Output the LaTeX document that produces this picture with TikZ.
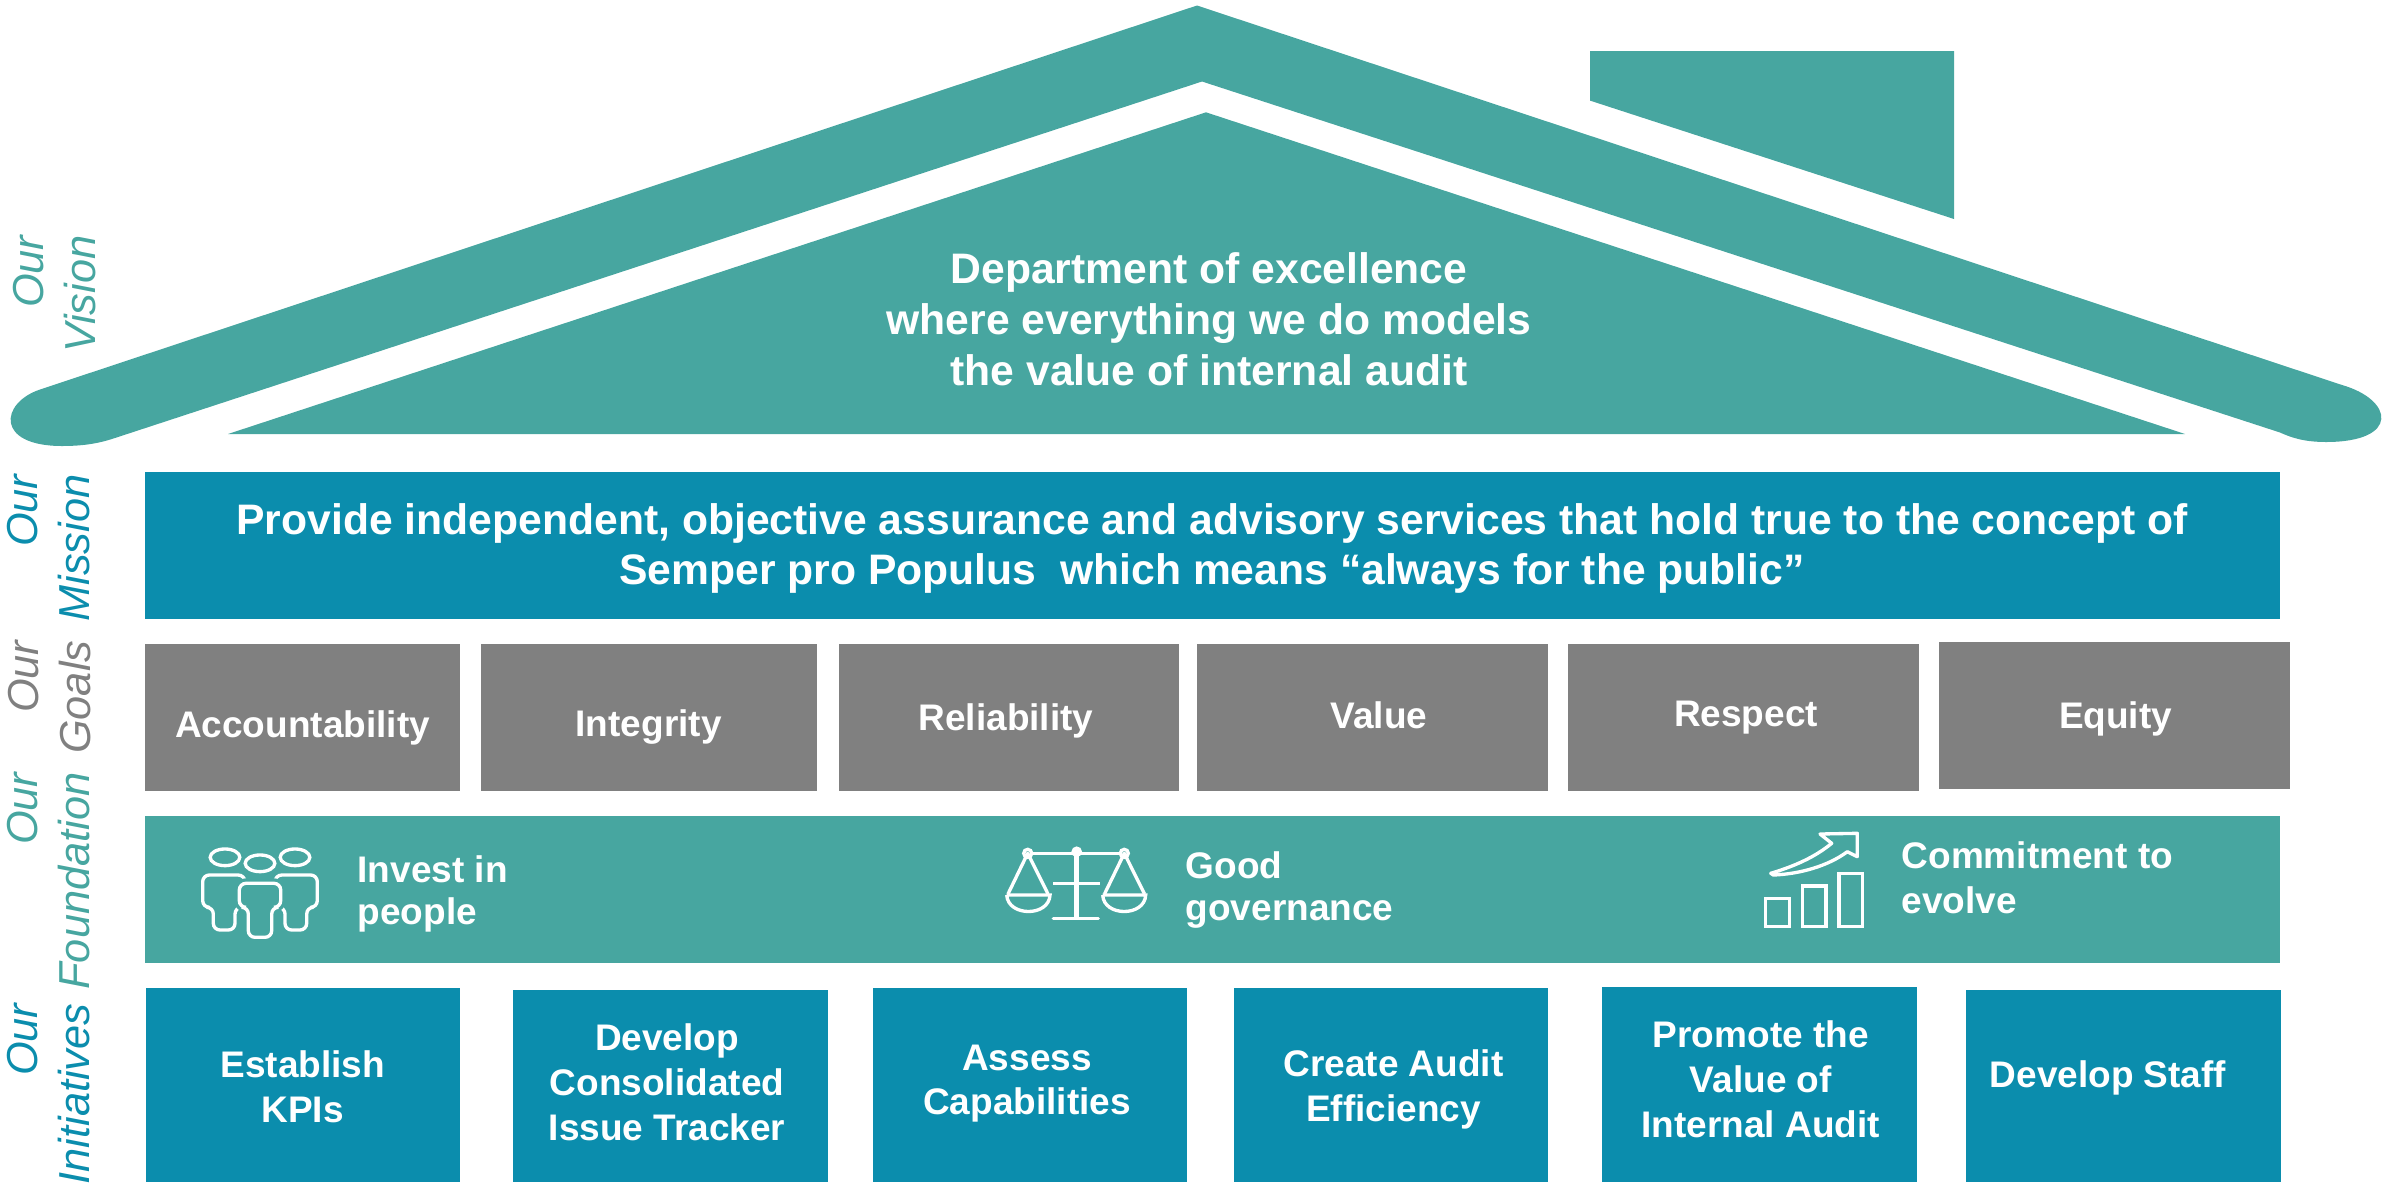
\documentclass[tikz,border=0pt]{standalone}
\usepackage{fontspec}
\setmainfont{Liberation Sans}
\definecolor{tealA}{HTML}{47A6A0}
\definecolor{blueA}{HTML}{0B8DAD}
\definecolor{grayA}{HTML}{808080}
\newcommand\lnstrut{\rule{0pt}{0.8em}}
\begin{document}
\begin{tikzpicture}[x=0.3pt,y=-0.3pt,
  wtext/.style={text=white, inner sep=0pt, align=center},
  mtext/.style={wtext, font=\bfseries\fontsize{11.1}{13.4}\selectfont},
  sidelabel/.style={rotate=90, anchor=east, align=right, inner sep=0pt,
    font=\itshape\fontsize{13}{15.6}\selectfont},
  icon/.style={draw=white, line width=1pt},
  iconback/.style={draw=tealA, fill=tealA, line width=3pt},
  goalbox/.style={fill=grayA},
  initbox/.style={fill=blueA},
  band/.style={fill=tealA}]
\useasboundingbox (0,0) rectangle (2386,1182);

% roof
\fill[band] (1197,5.5) -- (2342,385) .. controls (2394,400) and (2400,442) .. (2326,442)
  .. controls (2305,442) and (2292,438) .. (2280,432.5) -- (1202,81.5) -- (115,438)
  .. controls (100,443) and (85,446) .. (62,446) .. controls (-5,446) and (0,403) .. (40,389.5) -- cycle;
\fill[band] (1206,112.3) -- (2185,434) -- (228,434) -- cycle;
\fill[band] (1590,51) -- (1954,51) -- (1954,219) -- (1590,100.6) -- cycle;
\node[wtext, anchor=north, font=\bfseries\fontsize{12.8}{15.2}\selectfont] (vision) at (1209,249)
  {\lnstrut Department of excellence\\where everything we do models\\the value of internal audit};

% mission
\fill[initbox] (144.6,472) rectangle (2280,619);
\node[wtext, anchor=north, font=\bfseries\fontsize{12.8}{14.9}\selectfont] (mission) at (1212,499.7)
  {\lnstrut Provide independent, objective assurance and advisory services that hold true to the concept of\\Semper pro Populus~ which means “always for the public”};

% goals
\fill[goalbox] (144.6,644) rectangle (460,791);
\fill[goalbox] (481,644) rectangle (817,791);
\fill[goalbox] (839,644) rectangle (1178.5,791);
\fill[goalbox] (1197,644) rectangle (1548,791);
\fill[goalbox] (1568,644) rectangle (1919,791);
\fill[goalbox] (1939,642) rectangle (2290,789);
\node[mtext, anchor=base] (g1) at (302.5,737.3) {Accountability};
\node[mtext, anchor=base] (g2) at (648.6,736) {Integrity};
\node[mtext, anchor=base] (g3) at (1006,730) {Reliability};
\node[mtext, anchor=base] (g4) at (1379,728) {Value};
\node[mtext, anchor=base] (g5) at (1746,726) {Respect};
\node[mtext, anchor=base] (g6) at (2115.5,728) {Equity};

% foundation
\fill[band] (144.6,816) rectangle (2280,963);
\node[wtext, align=left, anchor=north west, font=\bfseries\fontsize{11.1}{12.6}\selectfont] (f1) at (357,852.4)
  {\lnstrut Invest in\\people};
\node[wtext, align=left, anchor=north west, font=\bfseries\fontsize{11.1}{12.6}\selectfont] (f2) at (1185,848.7)
  {\lnstrut Good\\governance};
\node[wtext, align=left, anchor=north west, font=\bfseries\fontsize{11.1}{13.5}\selectfont] (f3) at (1901,838.7)
  {\lnstrut Commitment to\\evolve};

% people icon
\draw[icon, rounded corners=2pt] (202.7,875) -- (245,875) -- (245,907.3) -- (235,907.3) -- (235,930) -- (213.3,930) -- (213.3,907.3) -- (202.7,907.3) -- cycle;
\draw[icon, rounded corners=2pt] (275,875) -- (317.3,875) -- (317.3,907.3) -- (306.7,907.3) -- (306.7,930) -- (285,930) -- (285,907.3) -- (275,907.3) -- cycle;
\draw[icon] (225,857.3) ellipse [x radius=4.45pt, y radius=2.5pt];
\draw[icon] (295,857.3) ellipse [x radius=4.45pt, y radius=2.5pt];
\draw[iconback, rounded corners=2pt] (239.3,883.3) -- (280.7,883.3) -- (280.7,907.3) -- (271.7,907.3) -- (271.7,937.3) -- (248.3,937.3) -- (248.3,907.3) -- (239.3,907.3) -- cycle;
\draw[icon, rounded corners=2pt] (239.3,883.3) -- (280.7,883.3) -- (280.7,907.3) -- (271.7,907.3) -- (271.7,937.3) -- (248.3,937.3) -- (248.3,907.3) -- (239.3,907.3) -- cycle;
\draw[iconback] (260,863.3) ellipse [x radius=4.45pt, y radius=2.5pt];
\draw[icon] (260,863.3) ellipse [x radius=4.45pt, y radius=2.5pt];

% scale icon
\draw[icon] (1027.7,853.3) -- (1124.3,853.3);
\draw[icon, fill=tealA] (1027.7,853.3) circle [radius=1.2pt];
\draw[icon, fill=tealA] (1124.3,853.3) circle [radius=1.2pt];
\draw[icon, line width=1.4pt] (1076.7,851.7) -- (1076.7,918.3);
\fill[white] (1076.7,851.7) circle [radius=1.6pt];
\draw[icon] (1053,883.3) -- (1100,883.3);
\draw[icon, line cap=round] (1053.3,918.3) -- (1098.3,918.3);
\draw[icon, line join=round] (1008,894) -- (1027.7,853.3) -- (1048,894);
\draw[icon] (1006.7,895) -- (1050,895) .. controls (1049,917) and (1008,917) .. (1006.7,895);
\draw[icon, line join=round] (1104.5,894) -- (1124.3,853.3) -- (1144.5,894);
\draw[icon] (1102.7,895) -- (1145.7,895) .. controls (1144.7,917) and (1103.7,917) .. (1102.7,895);

% chart icon
\draw[icon] (1765.7,898.3) rectangle (1789.3,926.7);
\draw[icon] (1802.3,886) rectangle (1826,926.7);
\draw[icon] (1839,873.3) rectangle (1862.7,926.7);
\draw[icon, line join=round] (1770.7,873.3) .. controls (1795,866) and (1815,857) .. (1831.7,843.3)
  -- (1820,834) -- (1857.3,833.3) -- (1857.3,856.7) -- (1847.3,851.7)
  .. controls (1828,866) and (1800,874) .. (1773.3,875) -- cycle;

% initiatives
\fill[initbox] (146,988) rectangle (460,1182);
\fill[initbox] (513,990) rectangle (828,1182);
\fill[initbox] (873,988) rectangle (1187,1182);
\fill[initbox] (1234,988) rectangle (1548,1182);
\fill[initbox] (1602,987) rectangle (1917,1182);
\fill[initbox] (1966,990) rectangle (2281,1182);
\node[mtext, anchor=north] (i1) at (302.7,1047.4) {\lnstrut Establish\\KPIs};
\node[mtext, anchor=north] (i2) at (667,1020.4) {\lnstrut Develop\\Consolidated\\Issue Tracker};
\node[mtext, anchor=north] (i3) at (1027,1040) {\lnstrut Assess\\Capabilities};
\node[mtext, anchor=north] (i4) at (1393.4,1046.4) {\lnstrut Create Audit\\Efficiency};
\node[mtext, anchor=north] (i5) at (1760.8,1017.7) {\lnstrut Promote the\\Value of\\Internal Audit};
\node[mtext, anchor=base] (i6) at (2108,1087.4) {Develop Staff};

% side labels
\node[sidelabel, text=tealA] (lvision) at (55,235) {Our\\Vision};
\node[sidelabel, text=blueA] (lmission) at (48.5,474) {Our\\Mission};
\node[sidelabel, text=grayA] (lgoals) at (50,640) {Our\\Goals};
\node[sidelabel, text=tealA] (lfound) at (49,772) {Our\\Foundation};
\node[sidelabel, text=blueA] (linit) at (48.5,1003) {Our\\Initiatives};
\end{tikzpicture}
\end{document}
